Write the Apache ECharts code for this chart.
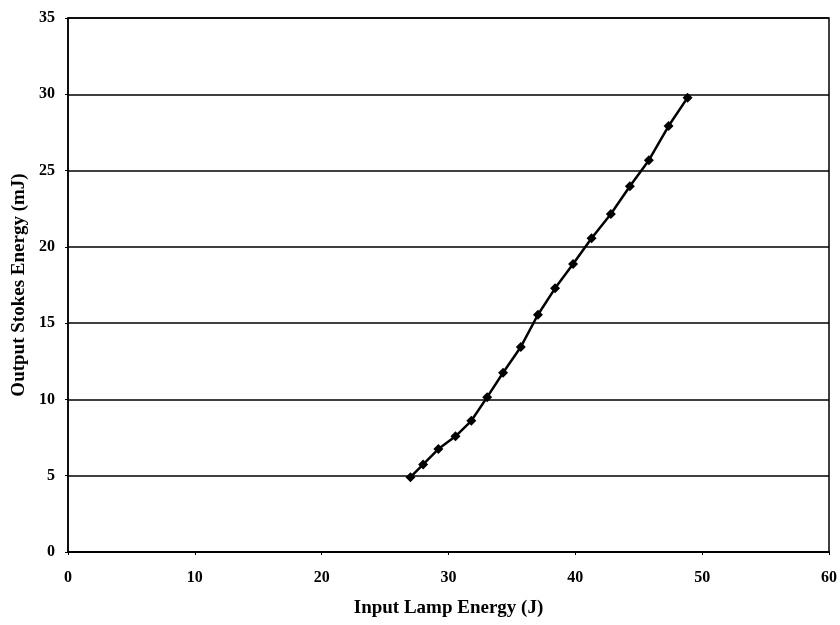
<!DOCTYPE html>
<html>
<head>
<meta charset="utf-8">
<script src="https://cdn.jsdelivr.net/npm/echarts@6/dist/echarts.min.js"></script>
<style>html,body{margin:0;padding:0;background:#fff;}#c{width:840px;height:625px;}</style>
</head>
<body>
<div id="c"></div>
<script>
const lampEnergy = [27.0, 28.0, 29.2, 30.55, 31.8, 33.05, 34.3, 35.7, 37.05, 38.4, 39.82, 41.28, 42.8, 44.3, 45.8, 47.35, 48.85];
const stokesEnergy = [4.9, 5.74, 6.75, 7.58, 8.6, 10.15, 11.75, 13.44, 15.55, 17.28, 18.88, 20.57, 22.15, 23.97, 25.68, 27.92, 29.78];
const xTicks = [0, 10, 20, 30, 40, 50, 60];
const yTicks = [0, 5, 10, 15, 20, 25, 30, 35];

const font = '"Liberation Serif", "Times New Roman", serif';
const chart = echarts.init(document.getElementById('c'), null, {renderer: 'canvas'});
chart.setOption({
  animation: false,
  backgroundColor: '#fff',
  grid: {left: 68, right: 8, top: 18, bottom: 73, show: true, borderColor: '#000', borderWidth: 1.5, containLabel: false},
  xAxis: {
    type: 'value', min: xTicks[0], max: xTicks[xTicks.length - 1], interval: 10,
    name: 'Input Lamp Energy (J)', nameLocation: 'middle', nameGap: 47,
    nameTextStyle: {fontFamily: font, fontWeight: 'bold', fontSize: 19, color: '#000'},
    axisLine: {show: true, lineStyle: {color: '#000', width: 2}},
    axisTick: {show: true, inside: false, length: 3, lineStyle: {color: '#000', width: 1}},
    axisLabel: {fontFamily: font, fontWeight: 'bold', fontSize: 16, color: '#000', margin: 18},
    splitLine: {show: false}
  },
  yAxis: {
    type: 'value', min: yTicks[0], max: yTicks[yTicks.length - 1], interval: 5,
    name: 'Output Stokes Energy (mJ)', nameLocation: 'middle', nameGap: 32, nameRotate: 90,
    nameTextStyle: {fontFamily: font, fontWeight: 'bold', fontSize: 19, color: '#000'},
    axisLine: {show: true, lineStyle: {color: '#000', width: 1.5}},
    axisTick: {show: true, inside: false, length: 3, lineStyle: {color: '#000', width: 1}},
    axisLabel: {fontFamily: font, fontWeight: 'bold', fontSize: 16, color: '#000', margin: 13},
    splitLine: {show: true, lineStyle: {color: '#000', width: 1.5}}
  },
  series: [{
    type: 'line',
    data: lampEnergy.map((x, i) => [x, stokesEnergy[i]]),
    symbol: 'diamond', symbolSize: 10,
    itemStyle: {color: '#000'},
    lineStyle: {color: '#000', width: 2.5},
    z: 5
  }]
});
</script>
</body>
</html>
